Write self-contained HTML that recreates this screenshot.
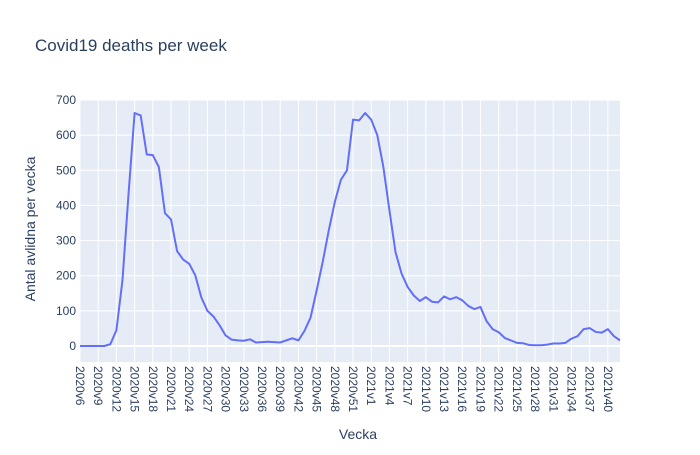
<!DOCTYPE html>
<html><head><meta charset="utf-8"><style>
html,body{margin:0;padding:0;background:#fff;}
svg text{font-family:"Liberation Sans",sans-serif;fill:#2a3f5f;}
</style></head><body>
<svg id="chart" width="700" height="450">
<rect x="0" y="0" width="700" height="450" fill="#fff"/>
<text x="35" y="51" font-size="17">Covid19 deaths per week</text>
<rect x="80" y="100" width="540" height="262" fill="#e5ecf6"/>
<g id="grid"></g>
<g id="yticks"></g>
<g id="xticks"></g>
<path id="line" fill="none" stroke="#636efa" stroke-width="2" stroke-linejoin="round"/>
<text x="358" y="439" font-size="14" text-anchor="middle">Vecka</text>
<text transform="translate(35,229) rotate(-90)" font-size="14" text-anchor="middle">Antal avlidna per vecka</text>
</svg>
<script>
const weeks2020 = [6,7,8,9,10,11,12,13,14,15,16,17,18,19,20,21,22,23,24,25,26,27,28,29,30,31,32,33,34,35,36,37,38,39,40,41,42,43,44,45,46,47,48,49,50,51,52,53];
const weeks2021 = [1,2,3,4,5,6,7,8,9,10,11,12,13,14,15,16,17,18,19,20,21,22,23,24,25,26,27,28,29,30,31,32,33,34,35,36,37,38,39,40,41,42];
const categories = weeks2020.map(w => '2020v' + w).concat(weeks2021.map(w => '2021v' + w));
const deaths = [0,0,0,0,0,5,45,187,433,663,656,545,543,509,378,360,270,246,234,201,138,100,84,59,30,18,16,15,19,10,11,12,11,10,16,22,16,43,81,158,239,329,410,473,500,644,642,663,644,600,509,386,267,206,168,144,128,139,126,124,141,133,139,130,114,105,111,71,48,39,23,16,9,8,3,2,2,4,7,7,9,21,28,48,51,40,38,48,28,16];
const yTicks = [0,100,200,300,400,500,600,700];
const NS = 'http://www.w3.org/2000/svg';
const x0 = 80, x1 = 620, yBase = 346, yTop = 100;
const xScale = i => x0 + i * (x1 - x0) / (categories.length - 1);
const yScale = v => yBase - v * (yBase - yTop) / 700;
const grid = document.getElementById('grid');
const yt = document.getElementById('yticks');
const xt = document.getElementById('xticks');
yTicks.forEach(v => {
  const l = document.createElementNS(NS, 'line');
  l.setAttribute('x1', x0); l.setAttribute('x2', x1);
  l.setAttribute('y1', yScale(v)); l.setAttribute('y2', yScale(v));
  l.setAttribute('stroke', '#fff'); l.setAttribute('stroke-width', v === 0 ? 2 : 1);
  
  
  grid.appendChild(l);
  const t = document.createElementNS(NS, 'text');
  t.setAttribute('x', 76); t.setAttribute('y', yScale(v) + 4);
  t.setAttribute('text-anchor', 'end'); t.setAttribute('font-size', '12');
  t.textContent = v;
  
  
  yt.appendChild(t);
});
categories.forEach((c, i) => {
  if (i % 3 !== 0) return;
  const x = xScale(i);
  const l = document.createElementNS(NS, 'line');
  l.setAttribute('x1', x); l.setAttribute('x2', x);
  l.setAttribute('y1', 100); l.setAttribute('y2', 362);
  l.setAttribute('stroke', '#fff'); l.setAttribute('stroke-width', 1);
  
  
  grid.appendChild(l);
  const t = document.createElementNS(NS, 'text');
  t.setAttribute('transform', 'translate(' + (x - 4) + ',366) rotate(90)');
  t.setAttribute('font-size', '12');
  t.textContent = c;
  
  
  xt.appendChild(t);
});
document.getElementById('line').setAttribute('d', deaths.map((v, i) => (i ? 'L' : 'M') + xScale(i).toFixed(2) + ',' + yScale(v).toFixed(2)).join(''));
</script>
</body></html>
